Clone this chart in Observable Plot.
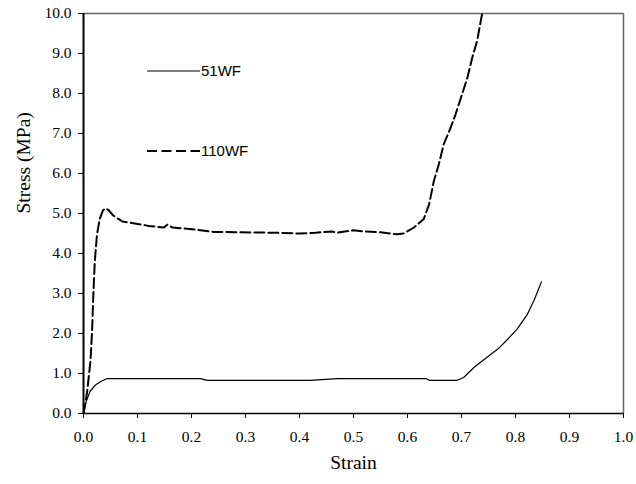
<!DOCTYPE html>
<html><head><meta charset="utf-8">
<script src="https://cdn.jsdelivr.net/npm/d3@7"></script>
<script src="https://cdn.jsdelivr.net/npm/@observablehq/plot@0.6"></script>
<style>
body{margin:0;background:#fff}
#wrap{position:relative;width:636px;height:484px}
#legend{position:absolute;left:0;top:0;pointer-events:none}
</style>
</head><body><div id="wrap"><div id="chart"></div><svg id="legend" width="636" height="484"></svg></div>
<script>
const seriesNames = ["51WF", "110WF"];
const strain51 = [0, 0.005, 0.012, 0.022, 0.032, 0.043, 0.1, 0.217, 0.229, 0.3, 0.42, 0.47, 0.55, 0.635, 0.64, 0.692, 0.704, 0.723, 0.745, 0.769, 0.79, 0.803, 0.822, 0.835, 0.848];
const stress51 = [0, 0.3, 0.55, 0.71, 0.8, 0.87, 0.87, 0.87, 0.83, 0.83, 0.83, 0.87, 0.87, 0.87, 0.83, 0.83, 0.9, 1.15, 1.38, 1.63, 1.92, 2.11, 2.48, 2.85, 3.29];
const strain110 = [0, 0.004, 0.007, 0.01, 0.013, 0.016, 0.018, 0.021, 0.025, 0.03, 0.036, 0.041, 0.047, 0.055, 0.072, 0.1, 0.121, 0.149, 0.155, 0.165, 0.192, 0.241, 0.291, 0.35, 0.4, 0.43, 0.46, 0.47, 0.5, 0.52, 0.55, 0.581, 0.593, 0.612, 0.63, 0.64, 0.649, 0.658, 0.667, 0.68, 0.689, 0.701, 0.711, 0.72, 0.729, 0.738];
const stress110 = [0, 0.3, 0.57, 0.95, 1.32, 2.1, 2.9, 3.82, 4.48, 4.86, 5.08, 5.13, 5.08, 4.95, 4.8, 4.74, 4.69, 4.65, 4.72, 4.65, 4.62, 4.54, 4.53, 4.52, 4.5, 4.52, 4.55, 4.52, 4.58, 4.55, 4.53, 4.48, 4.5, 4.65, 4.86, 5.23, 5.82, 6.23, 6.73, 7.15, 7.48, 7.98, 8.4, 8.9, 9.32, 9.98];
const xTicks = [0, 0.1, 0.2, 0.3, 0.4, 0.5, 0.6, 0.7, 0.8, 0.9, 1.0];
const yTicks = [0, 1, 2, 3, 4, 5, 6, 7, 8, 9, 10];
const xLabel = "Strain";
const yLabel = "Stress (MPa)";

const d51 = strain51.map((x, i) => ({x, y: stress51[i]}));
const d110 = strain110.map((x, i) => ({x, y: stress110[i]}));
const serif = "'Liberation Serif','Times New Roman',serif";
const fmt = d3.format(".1f");

const chart = Plot.plot({
  width: 636, height: 484,
  marginLeft: 83, marginRight: 13, marginTop: 13, marginBottom: 71,
  style: {fontFamily: serif, fontSize: "15.5px", background: "#fff", color: "#000"},
  x: {domain: [0, 1]},
  y: {domain: [0, 10]},
  marks: [
    Plot.axisX({ticks: xTicks, tickFormat: fmt, tickSize: 5, tickPadding: 12, label: null, fontSize: 15.5}),
    Plot.axisY({ticks: yTicks, tickFormat: fmt, tickSize: 5, tickPadding: 7, label: null, fontSize: 15.5}),
    Plot.ruleY([10], {stroke: "#666", strokeWidth: 1.5}),
    Plot.ruleX([1], {stroke: "#666", strokeWidth: 1.5}),
    Plot.line(d51, {x: "x", y: "y", stroke: "#000", strokeWidth: 1.2}),
    Plot.line(d110, {x: "x", y: "y", stroke: "#000", strokeWidth: 2, strokeDasharray: "10,4"}),
    Plot.ruleX([0], {stroke: "#000", strokeWidth: 2}),
    Plot.ruleY([0], {stroke: "#000", strokeWidth: 1.5}),
    Plot.text([xLabel], {frameAnchor: "bottom", dy: 55, text: d => d, fontSize: 19.5, fontFamily: serif}),
    Plot.text([yLabel], {frameAnchor: "left", dx: -60, rotate: -90, text: d => d, fontSize: 19.5, fontFamily: serif})
  ]
});
document.getElementById("chart").appendChild(chart);

// legend overlay
const lg = d3.select("#legend");
const items = [{name: seriesNames[0], y: 71, dash: null, w: 1.2}, {name: seriesNames[1], y: 151, dash: "10,4.5", w: 2}];
items.forEach(it => {
  lg.append("line").attr("x1", 147).attr("x2", 200).attr("y1", it.y).attr("y2", it.y)
    .attr("stroke", "#000").attr("stroke-width", it.w).attr("stroke-dasharray", it.dash);
  lg.append("text").attr("x", 201).attr("y", it.y).attr("dy", "0.35em")
    .attr("font-family", "'Liberation Sans',Arial,sans-serif").attr("font-size", 15).text(it.name);
});
</script>
</body></html>
